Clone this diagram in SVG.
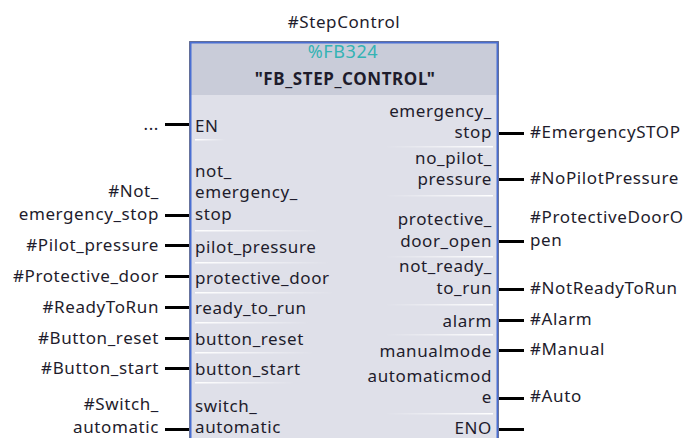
<svg xmlns="http://www.w3.org/2000/svg" width="686" height="438" viewBox="0 0 686 438">
  <defs>
    <linearGradient id="sepL" x1="0" y1="0" x2="1" y2="0">
      <stop offset="0" stop-color="#ffffff" stop-opacity="1"/>
      <stop offset="1" stop-color="#ffffff" stop-opacity="0"/>
    </linearGradient>
    <linearGradient id="sepR" x1="1" y1="0" x2="0" y2="0">
      <stop offset="0" stop-color="#ffffff" stop-opacity="1"/>
      <stop offset="1" stop-color="#ffffff" stop-opacity="0"/>
    </linearGradient>
  </defs>
  <style>
    text { font-family: "Noto Sans", "Open Sans", sans-serif; font-size: 17px; letter-spacing: 0.6px; fill: #1e1c2c; }
    .l { text-anchor: end; }
    .r { text-anchor: end; }
    .mid { text-anchor: middle; }
    .wire { stroke: #000000; stroke-width: 3; fill: none; }
    .sepL { fill: url(#sepL); }
    .sepR { fill: url(#sepR); }
  </style>
  <rect width="686" height="438" fill="#ffffff"/>

  <!-- instance name -->
  <text class="mid" x="344" y="28">#StepControl</text>

  <!-- function block -->
  <g id="fb_step_control">
    <rect x="189" y="41" width="310" height="410" fill="#dfe0e9"/>
    <rect x="189" y="41" width="310" height="54" fill="#c9ccd9"/>
    <rect x="190.5" y="42.5" width="307" height="410" fill="none" stroke="#4a6fd3" stroke-width="2"/>
    <rect x="189.5" y="41.5" width="309" height="410" fill="none" stroke="#3a3f5a" stroke-width="1" stroke-dasharray="1 1"/>
    <text class="mid" x="343" y="58" style="fill:#34b3b4;font-size:18px">%FB324</text>
    <text class="mid" x="345" y="85" style="font-weight:bold">"FB_STEP_CONTROL"</text>

    <!-- input parameters -->
    <text x="195" y="132">EN</text>
    <text x="195" y="177">not_</text>
    <text x="195" y="198">emergency_</text>
    <text x="195" y="220">stop</text>
    <text x="195" y="253">pilot_pressure</text>
    <text x="195" y="284">protective_door</text>
    <text x="195" y="314">ready_to_run</text>
    <text x="195" y="345">button_reset</text>
    <text x="195" y="375">button_start</text>
    <text x="195" y="412">switch_</text>
    <text x="195" y="433">automatic</text>

    <!-- output parameters -->
    <text class="r" x="492" y="117">emergency_</text>
    <text class="r" x="492" y="138">stop</text>
    <text class="r" x="492" y="164">no_pilot_</text>
    <text class="r" x="492" y="185">pressure</text>
    <text class="r" x="492" y="225">protective_</text>
    <text class="r" x="492" y="247">door_open</text>
    <text class="r" x="492" y="272">not_ready_</text>
    <text class="r" x="492" y="294">to_run</text>
    <text class="r" x="492" y="327">alarm</text>
    <text class="r" x="492" y="357">manualmode</text>
    <text class="r" x="492" y="382">automaticmod</text>
    <text class="r" x="492" y="403">e</text>
    <text class="r" x="492" y="434">ENO</text>

    <!-- row separators -->
    <rect class="sepL" x="195" y="139" width="30" height="1.5"/>
    <rect class="sepL" x="195" y="230" width="125" height="1.5"/>
    <rect class="sepL" x="195" y="262" width="135" height="1.5"/>
    <rect class="sepL" x="195" y="292" width="140" height="1.5"/>
    <rect class="sepL" x="195" y="322" width="115" height="1.5"/>
    <rect class="sepL" x="195" y="352" width="120" height="1.5"/>
    <rect class="sepL" x="195" y="382" width="100" height="1.5"/>
    <rect class="sepR" x="385" y="146" width="108" height="1.5"/>
    <rect class="sepR" x="385" y="195" width="108" height="1.5"/>
    <rect class="sepR" x="385" y="256" width="108" height="1.5"/>
    <rect class="sepR" x="385" y="304" width="108" height="1.5"/>
    <rect class="sepR" x="385" y="334" width="108" height="1.5"/>
    <rect class="sepR" x="385" y="413" width="108" height="1.5"/>
  </g>

  <!-- pin wires -->
  <g id="connectors">
    <line class="wire" x1="165" y1="124.5" x2="189" y2="124.5"/>
    <line class="wire" x1="165" y1="215.5" x2="189" y2="215.5"/>
    <line class="wire" x1="165" y1="245.5" x2="189" y2="245.5"/>
    <line class="wire" x1="165" y1="276.5" x2="189" y2="276.5"/>
    <line class="wire" x1="165" y1="307.5" x2="189" y2="307.5"/>
    <line class="wire" x1="165" y1="338.5" x2="189" y2="338.5"/>
    <line class="wire" x1="165" y1="368.5" x2="189" y2="368.5"/>
    <line class="wire" x1="165" y1="429.5" x2="189" y2="429.5"/>
    <line class="wire" x1="499" y1="133.5" x2="524" y2="133.5"/>
    <line class="wire" x1="499" y1="179.5" x2="524" y2="179.5"/>
    <line class="wire" x1="499" y1="241.5" x2="524" y2="241.5"/>
    <line class="wire" x1="499" y1="289.5" x2="524" y2="289.5"/>
    <line class="wire" x1="499" y1="320.5" x2="524" y2="320.5"/>
    <line class="wire" x1="499" y1="350.5" x2="524" y2="350.5"/>
    <line class="wire" x1="499" y1="398.5" x2="524" y2="398.5"/>
    <line class="wire" x1="499" y1="429.5" x2="524" y2="429.5"/>
  </g>

  <!-- operands -->
  <g id="operands">
    <text class="l" x="159" y="130">...</text>
    <text class="l" x="159" y="197">#Not_</text>
    <text class="l" x="159" y="220">emergency_stop</text>
    <text class="l" x="159" y="251">#Pilot_pressure</text>
    <text class="l" x="159" y="282">#Protective_door</text>
    <text class="l" x="159" y="313">#ReadyToRun</text>
    <text class="l" x="159" y="344">#Button_reset</text>
    <text class="l" x="159" y="374">#Button_start</text>
    <text class="l" x="159" y="410">#Switch_</text>
    <text class="l" x="159" y="433">automatic</text>
    <text x="530" y="138">#EmergencySTOP</text>
    <text x="530" y="184">#NoPilotPressure</text>
    <text x="530" y="223">#ProtectiveDoorO</text>
    <text x="530" y="246">pen</text>
    <text x="530" y="294">#NotReadyToRun</text>
    <text x="530" y="325">#Alarm</text>
    <text x="530" y="355">#Manual</text>
    <text x="530" y="402">#Auto</text>
  </g>
</svg>
